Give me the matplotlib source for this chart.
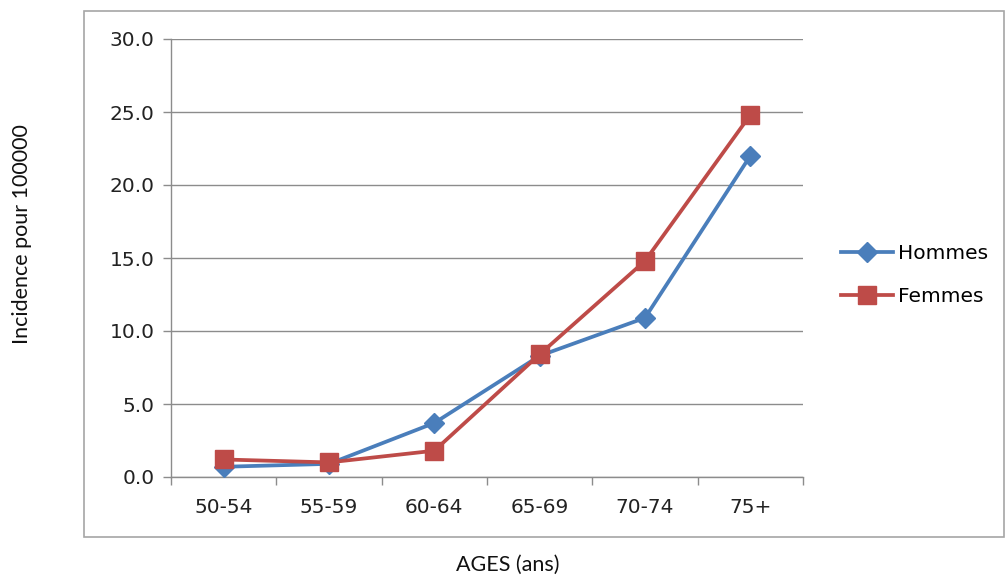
import matplotlib.pyplot as plt
from matplotlib.patches import Rectangle

# data
ages = ["50-54", "55-59", "60-64", "65-69", "70-74", "75+"]
hommes = [0.7, 0.9, 3.7, 8.3, 10.9, 22.0]
femmes = [1.2, 1.0, 1.8, 8.4, 14.8, 24.8]
yticks = [0, 5, 10, 15, 20, 25, 30]

blue = "#4a7ebb"
red = "#be4b48"
grid_c = "#8c8c8c"

fig = plt.figure(figsize=(10.05, 5.78), dpi=100)

# outer chart frame
fig.patches.append(Rectangle((84 / 1005, 41 / 578), 920 / 1005, 526 / 578,
                             transform=fig.transFigure, fill=False,
                             edgecolor="#a6a6a6", linewidth=1.2))

ax = fig.add_axes([171 / 1005, 1 - 477 / 578, 632 / 1005, 438 / 578])
x = list(range(len(ages)))
ax.plot(x, hommes, color=blue, lw=2.7, marker="D", ms=10,
        markerfacecolor=blue, markeredgecolor=blue, label="Hommes", zorder=3)
ax.plot(x, femmes, color=red, lw=2.7, marker="s", ms=13.5,
        markerfacecolor=red, markeredgecolor=red, label="Femmes", zorder=4)

ax.set_xlim(-0.5, len(ages) - 0.5)
ax.set_ylim(0, 30)
ax.set_yticks(yticks)
ax.set_yticklabels([f"{v:.1f}" for v in yticks])
ax.set_xticks(x)
ax.set_xticklabels(ages)
ax.set_xticks([i - 0.5 for i in range(len(ages) + 1)], minor=True)

ax.yaxis.grid(True, color=grid_c, linewidth=1.0)
ax.set_axisbelow(True)
for s in ["top", "right"]:
    ax.spines[s].set_visible(False)
for s in ["left", "bottom"]:
    ax.spines[s].set_color(grid_c)
    ax.spines[s].set_linewidth(1.0)

ax.tick_params(axis="y", length=6, width=1.0, color=grid_c, pad=6,
               labelsize=14.5, labelcolor="#222222")
ax.tick_params(axis="x", which="major", length=0, pad=15,
               labelsize=14.5, labelcolor="#222222")
ax.tick_params(axis="x", which="minor", length=6, width=1.0, color=grid_c)

ax.legend(loc="center left", bbox_to_anchor=(841 / 1005, 1 - 275 / 578),
          bbox_transform=fig.transFigure, frameon=False, fontsize=14.5,
          handlelength=2.6, handletextpad=0.25, labelspacing=1.15,
          borderpad=0, borderaxespad=0)

fig.text(22 / 1005, 1 - 234 / 578, "Incidence pour 100000", rotation=90,
         ha="center", va="center", fontsize=15.5, family="Lato", color="#111111")
fig.text(508 / 1005, 1 - 565 / 578, "AGES (ans)", ha="center", va="center",
         fontsize=15.5, family="Lato", color="#111111")

fig.savefig("out.png", dpi=100)
